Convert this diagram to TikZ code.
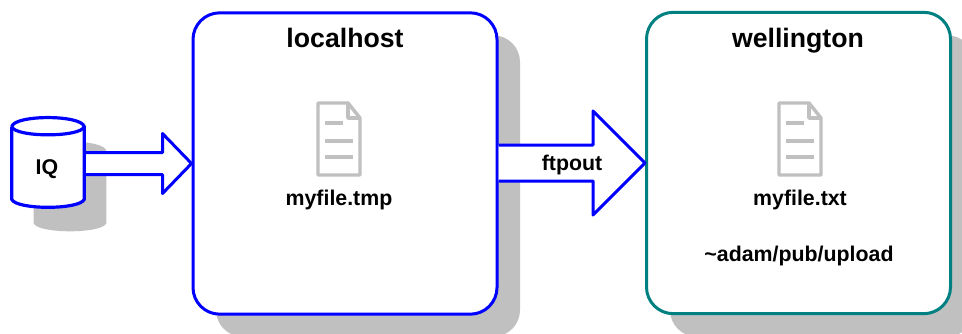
\documentclass[tikz,border=0pt]{standalone}
\usepackage{fontspec}
\setmainfont{Liberation Sans}
\usetikzlibrary{calc}
\definecolor{shadowgray}{HTML}{C0C0C0}
\definecolor{hostteal}{HTML}{008080}
\tikzset{
  hostbox/.style={rectangle, rounded corners=20pt, line width=2.25pt, fill=white, minimum width=228pt, minimum height=226pt, inner sep=0pt},
  hostshadow/.style={rectangle, rounded corners=20pt, fill=shadowgray, minimum width=228pt, minimum height=226pt, inner sep=0pt},
  title/.style={font=\bfseries\fontsize{20}{24}\selectfont, inner sep=0pt, anchor=base},
  label/.style={font=\bfseries\fontsize{16}{19}\selectfont, inner sep=0pt, anchor=base},
  blockarrow/.style={draw=blue, fill=white, line width=2.25pt, line join=round},
  drumend/.style={rectangle, minimum width=54pt, minimum height=67pt, inner sep=0pt},
  docicon/.pic={
    \draw[shadowgray, line width=2.6pt, line join=round] (-21,-36) -- (9,-36) -- (21,-21) -- (21,36) -- (-21,36) -- cycle;
    \draw[shadowgray, line width=2.6pt, line join=round] (9,-36) -- (9,-21) -- (21,-21);
    \draw[shadowgray, line width=2.6pt] (-14,-16) -- (4,-16);
    \draw[shadowgray, line width=2.6pt] (-14,2) -- (14,2);
    \draw[shadowgray, line width=2.6pt] (-14,18) -- (14,18);
  }
}
\newcommand{\blockarrow}[5]{% from, to, half shaft, half head, head length
  \draw[blockarrow] (#1.east |- #2.west) ++(0,-#3) -- ($(#2.west)+(-#5,-#3)$) -- ($(#2.west)+(-#5,-#4)$) -- (#2.west)
    -- ($(#2.west)+(-#5,#4)$) -- ($(#2.west)+(-#5,#3)$) -- ($(#1.east |- #2.west)+(0,#3)$);
}
\newcommand{\drumpath}[1]{%
  (#1.north west) ++(0,9) -- ($(#1.south west)+(0,-8)$)
  .. controls ($(#1.south west)+(5,2.5)$) and ($(#1.south east)+(-5,2.5)$) .. ($(#1.south east)+(0,-8)$)
  -- ($(#1.north east)+(0,9)$)
  .. controls ($(#1.north east)+(-3,-3)$) and ($(#1.north west)+(3,-3)$) .. ($(#1.north west)+(0,9)$)
}
\begin{document}
\begin{tikzpicture}[x=.75pt,y=-.75pt]
\useasboundingbox (0,0) rectangle (962,333);
% shadows
\begin{scope}
\clip (0,0) rectangle (962,333);
\node[hostshadow] (localshadow) at (368,186){};
\node[hostshadow] (wellshadow) at (822,186){};
\node[drumend] (iqshadow) at (70,186.5){};
\fill[shadowgray] \drumpath{iqshadow};
\end{scope}
% hosts
\node[hostbox, draw=blue] (localhost) at (345,163.5){};
\node[hostbox, draw=hostteal] (wellington) at (798.5,163){};
\node[title] (localtitle) at (345,47){localhost};
\node[title] (welltitle) at (798,47){wellington};
% files
\pic at (339,139) {docicon};
\pic at (800,139) {docicon};
\node[label] (tmpfile) at (339,205){myfile.tmp};
\node[label] (txtfile) at (800,205){myfile.txt};
\node[label] (uploaddir) at (799,261){\textasciitilde adam/pub/upload};
% queue
\node[drumend] (iq) at (48,162.5){};
% arrows
\blockarrow{iq}{localhost}{11}{30}{29}
\blockarrow{localhost}{wellington}{18}{52}{52}
\node[label] (ftplabel) at (572,170){ftpout};
\draw[blue, line width=2.4pt, fill=white, line join=round] \drumpath{iq};
\draw[blue, line width=2.4pt] ($(iq.north west)+(0,9)$) .. controls ($(iq.north west)+(3,20)$) and ($(iq.north east)+(-3,20)$) .. ($(iq.north east)+(0,9)$);
\node[label] (iqlabel) at (47,174){IQ};
\end{tikzpicture}
\end{document}
